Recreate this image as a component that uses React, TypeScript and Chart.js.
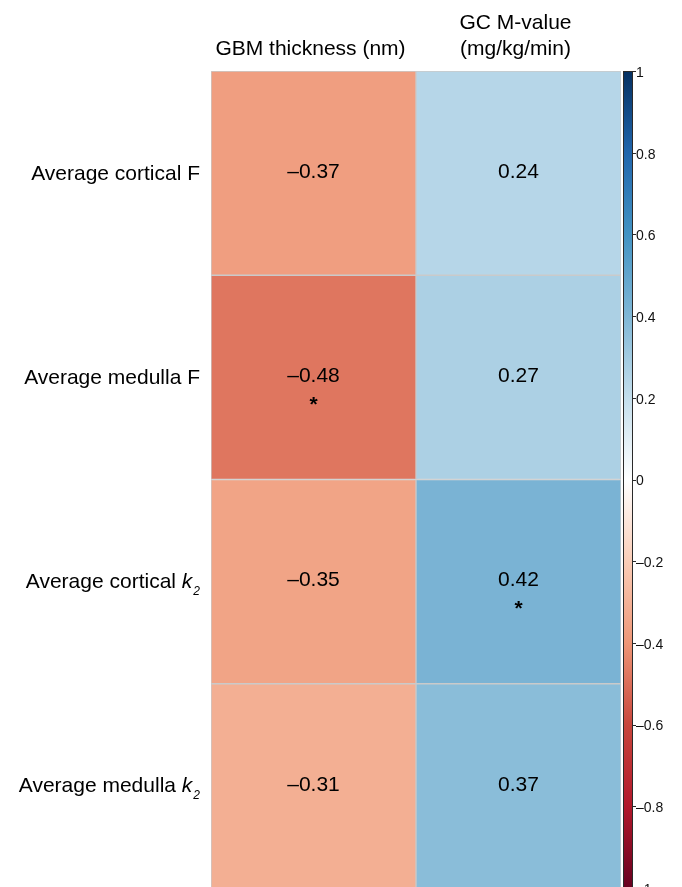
import React, { useEffect, useRef } from 'react';
import { Chart, registerables } from 'chart.js';

Chart.register(...registerables);

// ---- data ----
const rowLabels = ['Average cortical F', 'Average medulla F', 'Average cortical k2', 'Average medulla k2'];
const rowNames = ['Average cortical', 'Average medulla', 'Average cortical', 'Average medulla'];
const rowSymbols = ['F', 'F', 'k', 'k'];
const rowSubscripts = ['', '', '2', '2'];
const columnLabels = [['GBM thickness (nm)'], ['GC M-value', '(mg/kg/min)']];
const gbmValues = [-0.37, -0.48, -0.35, -0.31];
const gcValues = [0.24, 0.27, 0.42, 0.37];
const gbmSignificant = [false, true, false, false];
const gcSignificant = [false, false, true, false];
const colorbarMin = -1;
const colorbarMax = 1;
const colorbarStep = 0.2;
// diverging red-blue palette from -1 (red) to +1 (blue), evenly spaced stops
const paletteStops = ['#67001F', '#B2182B', '#C8463C', '#EE9676', '#FACDB7', '#FFFFFF', '#C4DEEC', '#80B7D6', '#4393C3', '#2166AC', '#053061'];

const columnValues = [gbmValues, gcValues];
const columnSignificant = [gbmSignificant, gcSignificant];

const FONT = '"Liberation Sans", Arial, Helvetica, sans-serif';

function hexToRgb(h: string) {
  const n = parseInt(h.slice(1), 16);
  return [(n >> 16) & 255, (n >> 8) & 255, n & 255];
}

function colorFor(v: number) {
  const t = ((v - colorbarMin) / (colorbarMax - colorbarMin)) * (paletteStops.length - 1);
  const i = Math.max(0, Math.min(paletteStops.length - 2, Math.floor(t)));
  const f = t - i;
  const a = hexToRgb(paletteStops[i]);
  const b = hexToRgb(paletteStops[i + 1]);
  const c = a.map((x, k) => Math.round(x + (b[k] - x) * f));
  return `rgb(${c[0]},${c[1]},${c[2]})`;
}

function fmtValue(v: number) {
  return (v < 0 ? '\u2013' : '') + Math.abs(v).toFixed(2);
}

function fmtTick(v: number) {
  const r = Math.round(v * 10) / 10;
  if (r === 0) return '0';
  return (r < 0 ? '\u2013' : '') + String(Math.abs(r));
}

const textPlugin = {
  id: 'heatmapText',
  afterDraw(chart: any) {
    const ctx = chart.ctx as CanvasRenderingContext2D;
    const xs = chart.scales.x;
    const ys = chart.scales.y;
    const cb = chart.scales.cb;
    const area = chart.chartArea;
    ctx.save();

    // colour bar
    const top = cb.getPixelForValue(colorbarMax);
    const bottom = cb.getPixelForValue(colorbarMin);
    const bx = Math.round(cb.left) + 2;
    const bw = 10;
    const grad = ctx.createLinearGradient(0, top, 0, bottom);
    paletteStops.forEach((c, i) => grad.addColorStop(1 - i / (paletteStops.length - 1), c));
    ctx.fillStyle = grad;
    ctx.fillRect(bx, top, bw, bottom - top);
    ctx.strokeStyle = '#2a2a2a';
    ctx.lineWidth = 1;
    ctx.strokeRect(bx + 0.5, top + 0.5, bw - 1, bottom - top - 1);
    cb.ticks.forEach((t: any) => {
      const py = Math.round(cb.getPixelForValue(t.value)) + 0.5;
      ctx.beginPath();
      ctx.moveTo(bx + bw, py);
      ctx.lineTo(bx + bw + 3, py);
      ctx.stroke();
    });

    // cell values
    ctx.fillStyle = '#000';
    ctx.textAlign = 'center';
    ctx.textBaseline = 'middle';
    columnValues.forEach((vals, c) => {
      const cx = xs.getPixelForValue(c + 0.5);
      vals.forEach((v, r) => {
        const cy = ys.getPixelForValue(r);
        ctx.font = `21px ${FONT}`;
        ctx.fillText(fmtValue(v), cx, cy - 1);
        if (columnSignificant[c][r]) {
          ctx.font = `bold 21px ${FONT}`;
          ctx.fillText('*', cx, cy + 28);
        }
      });
    });

    // column headers
    ctx.font = `21px ${FONT}`;
    ctx.textBaseline = 'middle';
    columnLabels.forEach((lines, c) => {
      const cx = xs.getPixelForValue(c + 0.5) - 3;
      lines.forEach((line, k) => {
        const cy = area.top - 22 - (lines.length - 1 - k) * 26;
        ctx.fillText(line, cx, cy);
      });
    });

    // row labels
    ctx.textAlign = 'left';
    ctx.textBaseline = 'alphabetic';
    const right = area.left - 11;
    rowNames.forEach((name, r) => {
      const baseline = ys.getPixelForValue(r) + 6.5;
      const sub = rowSubscripts[r];
      const mainFont = `21px ${FONT}`;
      const symFont = sub ? `italic 21px ${FONT}` : `21px ${FONT}`;
      const subFont = `italic 12px ${FONT}`;
      ctx.font = mainFont;
      const mainText = name + ' ';
      const wMain = ctx.measureText(mainText).width;
      ctx.font = symFont;
      const wSym = ctx.measureText(rowSymbols[r]).width;
      ctx.font = subFont;
      const wSub = sub ? ctx.measureText(sub).width + 1 : 0;
      let x0 = right - wMain - wSym - wSub;
      ctx.font = mainFont;
      ctx.fillText(mainText, x0, baseline);
      x0 += wMain;
      ctx.font = symFont;
      ctx.fillText(rowSymbols[r], x0, baseline);
      x0 += wSym;
      if (sub) {
        ctx.font = subFont;
        ctx.fillText(sub, x0 + 1, baseline + 7);
      }
    });
    ctx.restore();
  },
};

export default function App() {
  const ref = useRef<HTMLCanvasElement>(null);
  useEffect(() => {
    const canvas = ref.current;
    if (!canvas) return;
    const chart = new Chart(canvas, {
      type: 'bar',
      data: {
        labels: rowLabels,
        datasets: columnValues.map((vals, c) => ({
          label: columnLabels[c].join(' '),
          data: vals.map(() => [c, c + 1]),
          backgroundColor: vals.map(colorFor),
          borderColor: '#CACACA',
          borderWidth: 1,
          borderSkipped: false,
          grouped: false,
          barPercentage: 1,
          categoryPercentage: 1,
        })) as any,
      },
      options: {
        responsive: false,
        animation: false,
        indexAxis: 'y',
        layout: { padding: { left: 211, top: 71, right: 0, bottom: 24 } },
        plugins: { legend: { display: false }, tooltip: { enabled: false } },
        scales: {
          x: { type: 'linear', min: 0, max: columnValues.length, display: false },
          y: { type: 'category', display: false },
          cb: {
            type: 'linear',
            axis: 'y',
            position: 'right',
            offset: false,
            min: colorbarMin,
            max: colorbarMax,
            grid: { display: false, drawTicks: false, offset: false },
            border: { display: false },
            ticks: {
              stepSize: colorbarStep,
              padding: 15,
              labelOffset: 2,
              color: '#111',
              autoSkip: false,
              font: { family: FONT, size: 14 },
              callback: (v: any) => fmtTick(Number(v)),
            },
            afterFit: (s: any) => {
              s.width = 61;
            },
          } as any,
        },
      } as any,
      plugins: [textPlugin],
    });
    return () => chart.destroy();
  }, []);

  return (
    <div style={{ position: 'fixed', left: 0, top: 0, width: 682, height: 887, overflow: 'hidden', background: '#fff' }}>
      <canvas ref={ref} width={682} height={912} style={{ display: 'block' }} />
    </div>
  );
}
